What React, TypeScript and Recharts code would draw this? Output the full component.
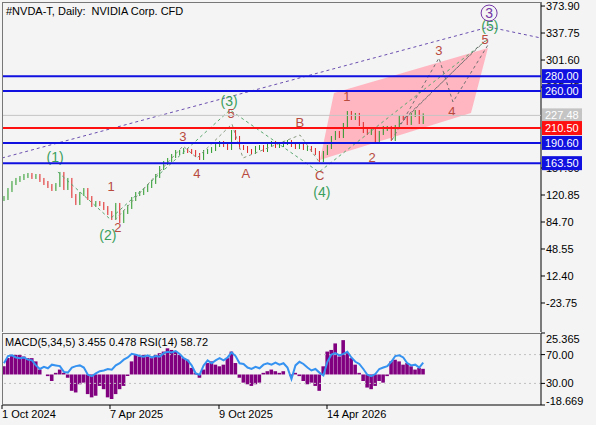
import React from "react";
import { ComposedChart, Bar, Line, Area, Scatter, XAxis, YAxis, ReferenceLine } from "recharts";

const FONT = "'Liberation Sans', Arial, sans-serif";
const UP = "#2a9a2a";
const DOWN = "#e02424";

// daily closes sampled along the chart (price)
const closes = [
  116.8, 127.5, 136.9, 141.0, 143.6, 146.3, 147.6, 145.0, 146.3, 141.0,
  136.9, 132.9, 128.9, 134.2, 149.0, 130.2, 141.0, 119.5, 110.1, 122.2,
  127.5, 116.8, 107.5, 110.1, 108.8, 103.4, 96.7, 90.1, 107.5, 86.0,
  98.1, 104.8, 115.5, 122.2, 123.5, 127.5, 132.9, 138.3, 146.3, 157.0,
  163.7, 167.7, 173.1, 178.4, 178.4, 181.1, 179.8, 178.4, 174.4, 170.4,
  178.4, 179.8, 182.4, 187.8, 190.5, 187.8, 183.8, 205.2, 197.2, 185.1,
  183.8, 179.8, 178.4, 183.8, 185.1, 181.1, 187.8, 190.5, 186.5, 187.8,
  190.5, 191.8, 187.8, 185.1, 189.1, 183.8, 183.8, 181.1, 177.1, 167.7,
  177.1, 185.1, 197.2, 203.9, 199.8, 214.6, 230.6, 224.0, 228.0, 215.9,
  206.5, 203.9, 206.5, 194.5, 203.9, 210.6, 210.6, 195.8, 211.9, 225.3,
  224.0, 217.3, 228.0, 232.0, 218.6, 227.48,
];

const macd = [
  5, 10, 12, 12, 12, 11, 10, 10, 8, 3,
  0, -1, -4, 1, 3, 1, -2, -10, -11, -6,
  -5, -12, -14, -13, -7, -9, -14, -15, -12, -9,
  -7, -1, 8, 12, 11, 12, 11, 10, 12, 13,
  14, 16, 15, 14, 12, 10, 9, 4, 1, -2,
  3, 7, 8, 6, 5, 6, 10, 14, 7, -2,
  -5, -6, -7, -6, -5, 1, 2, 3, 2, 1,
  2, 0, -1, 1, -1, -4, -6, -5, -7, -10,
  5, 14, 15, 19, 11, 21, 13, 10, 6, 1,
  -4, -8, -9, -7, -4, -5, -1, 8, 9, 8,
  6, 7, 5, 3, 4, 3.455,
];

const rsi = [
  58, 68, 69, 66, 65, 66, 63, 62, 55, 50,
  53, 51, 56, 55, 54, 46, 45, 52, 54, 55,
  52, 42, 40, 44, 47, 48, 50, 49, 55, 58,
  63, 66, 71, 70, 68, 67, 69, 66, 68, 67,
  72, 74, 73, 75, 71, 65, 62, 55, 44, 42,
  55, 62, 58, 62, 65, 62, 66, 73, 68, 58,
  57, 52, 50, 53, 51, 56, 58, 56, 59, 56,
  58, 52, 36, 55, 60, 57, 52, 48, 50, 45,
  41, 60, 70, 72, 69, 71, 74, 66, 60, 57,
  50, 42, 40, 43, 50, 52, 54, 60, 68, 69,
  66, 58, 55, 56, 52, 58.72,
];

// 229.30 and 193.15 sit fully under the 227.48 / 190.60 tags, so they are left out
const priceTicks = [373.9, 337.75, 301.6, 265.45, 157.0, 120.85, 84.7, 48.55, 12.4, -23.75];
const dateIdx = [-0.5, 26.55, 53.85, 80.9];
const dateLabels = ["1 Oct 2024", "7 Apr 2025", "9 Oct 2025", "14 Apr 2026"];
const panelTicks = [0, 30, 70, 100];
const panelLabels = ["-18.669", "30.00", "70.00", "25.365"];

const levels = [280, 260, 227.48, 210.5, 190.6, 163.5];
const levelColors = ["#1010e0", "#1010e0", "#c4c4c4", "#ff1010", "#1010e0", "#1010e0"];

// wave annotations (bar index, price)
const waveText = ["(1)", "1", "(2)", "2", "3", "4", "(3)", "5", "A", "B", "C", "(4)", "1", "2", "3", "4", "5", "(5)", "3"];
const waveIdx = [12.8, 26.8, 26.0, 28.5, 44.8, 48.3, 56.4, 56.9, 60.6, 74.1, 79.1, 79.6, 85.9, 92.2, 108.9, 112.2, 120.5, 121.7, 121.5];
const wavePrice = [171.7, 131.6, 67.0, 78.0, 199.8, 150.3, 246.7, 230.6, 150.3, 217.3, 146.3, 125.0, 252.1, 171.7, 314.9, 233.3, 329.0, 347.0, 364.5];
const waveDegree = ["g", "r", "g", "r", "r", "r", "g", "r", "r", "r", "r", "g", "r", "r", "r", "r", "r", "g", "p"];

const greenIdx = [13.5, 26.55, 56.6, 78.9, 120.96];
const greenPrice = [151.6, 88.7, 234.7, 151.6, 328.4];
const subIdx = [27.8, 44.83, 48.34, 57.1, 59.86, 74.13, 79.14];
const subPrice = [87.4, 186.5, 170.4, 215.9, 170.4, 201.2, 163.7];
const projIdx = [97.17, 108.94, 112.45, 121.21];
const projPrice = [194.5, 304.3, 245.4, 321.7];
const proj2Idx = [98.93, 118.71];
const proj2Price = [214.6, 319.0];
const proj3Idx = [100.43, 120.71];
const proj3Price = [223.9, 328.4];
const trendIdx = [-0.5, 121.46, 134.5];
const trendPrice = [170.4, 345.8, 331.1];
const channelIdx = [79.14, 82.65, 116.96, 121.21];
const channelLow = [167.7, 173.6, 230.6, 317.7];
const channelHigh = [167.7, 257.4, 311.0, 317.7];

const X_DOMAIN = [-0.5, 134.5];
const Y_DOMAIN = [-62.6, 379.3];

const candles = closes.map((c, i) => ({ i, open: i ? closes[i - 1] : c, close: c }));
const pts = (xs: number[], ys: number[]) => xs.map((x, k) => ({ i: x, p: ys[k] }));
const waves = waveText.map((t, k) => ({ i: waveIdx[k], p: wavePrice[k], t, d: waveDegree[k] }));
const channel = channelIdx.map((x, k) => ({ i: x, r: [channelLow[k], channelHigh[k]] }));
const panelData = macd.map((m, i) => ({ i, m, r: rsi[i] }));

const Candle = (props: any) => {
  const { x, y, width, height, payload } = props;
  if (x == null || y == null) return null;
  const col = payload.close >= payload.open ? UP : DOWN;
  const h = Math.max(1, height || 0);
  const cx = x + width / 2;
  return (
    <g>
      <line x1={cx} x2={cx} y1={y - 2} y2={y + h + 2} stroke={col} strokeWidth={1} />
      <rect x={x} y={y} width={width} height={h} fill={col} />
    </g>
  );
};

const waveColor: Record<string, string> = { g: "#3a9e5c", r: "#b84a3e", p: "#7436a6" };

const WaveLabel = (props: any) => {
  const { cx, cy, payload } = props;
  const col = waveColor[payload.d];
  return (
    <g>
      {payload.d === "p" && <circle cx={cx} cy={cy} r={8} fill="none" stroke={col} strokeWidth={1} />}
      <text x={cx} y={cy} textAnchor="middle" dominantBaseline="central" fill={col}
        fontSize={payload.d === "r" ? 13 : 14} fontFamily={FONT}>
        {payload.t}
      </text>
    </g>
  );
};

const LevelTag = (props: any) => {
  const { viewBox, text, bg } = props;
  if (!viewBox) return null;
  const x = viewBox.x + viewBox.width + 1;
  const y = viewBox.y;
  return (
    <g>
      <rect x={x} y={y - 7} width={40} height={14} fill={bg} />
      <text x={x + 3} y={y} dominantBaseline="central" fill="#fff" fontSize={11} fontFamily={FONT}>{text}</text>
    </g>
  );
};

const DateTick = (props: any) => {
  const { x, y, payload } = props;
  const k = dateIdx.indexOf(payload.value);
  return (
    <text x={x} y={y + 7} fill="#000" fontSize={11} fontFamily={FONT} textAnchor="start">{dateLabels[k]}</text>
  );
};

const PanelTick = (props: any) => {
  const { x, y, payload } = props;
  const k = panelTicks.indexOf(payload.value);
  const shift = payload.value === 100 ? 6 : payload.value === 0 ? -4 : 0;
  return (
    <text x={x} y={y + shift} dominantBaseline="central" fill="#000" fontSize={11} fontFamily={FONT} textAnchor="start">{panelLabels[k]}</text>
  );
};

const MAIN_MARGIN = { top: 2, right: 0, bottom: 1, left: 2 };

export default function App() {
  return (
    <div style={{ position: "absolute", left: 0, top: 0, width: 596, height: 425, background: "#f4f4f4", overflow: "hidden" }}>
      <div style={{ position: "absolute", left: 0, top: 0 }}>
        <ComposedChart width={596} height={333} data={candles} margin={MAIN_MARGIN}>
          <XAxis dataKey="i" type="number" domain={X_DOMAIN} hide allowDataOverflow />
          <YAxis orientation="right" type="number" domain={Y_DOMAIN} ticks={priceTicks} interval={0}
            width={55} tickSize={4} tickMargin={1} allowDataOverflow
            axisLine={{ stroke: "#000" }} tickLine={{ stroke: "#000" }}
            tick={{ fill: "#000", fontSize: 11, fontFamily: FONT }}
            tickFormatter={(v: number) => v.toFixed(2)} />
          <Area data={channel} dataKey="r" type="linear" stroke="none" fill="#ffb6c1" fillOpacity={1} isAnimationActive={false} />
          <Bar dataKey={(d: any) => [Math.min(d.open, d.close), Math.max(d.open, d.close)]} barSize={3}
            shape={<Candle />} isAnimationActive={false} />
          <Line data={pts(trendIdx, trendPrice)} dataKey="p" type="linear" stroke="#6a4fb0" strokeWidth={1} strokeDasharray="3 3" dot={false} isAnimationActive={false} />
          <Line data={pts(greenIdx, greenPrice)} dataKey="p" type="linear" stroke="#5aa870" strokeWidth={1} strokeDasharray="3 3" dot={false} isAnimationActive={false} />
          <Line data={pts(subIdx, subPrice)} dataKey="p" type="linear" stroke="#8a9a80" strokeWidth={1} strokeDasharray="3 3" dot={false} isAnimationActive={false} />
          <Line data={pts(projIdx, projPrice)} dataKey="p" type="linear" stroke="#707070" strokeWidth={1} strokeDasharray="3 3" dot={false} isAnimationActive={false} />
          <Line data={pts(proj2Idx, proj2Price)} dataKey="p" type="linear" stroke="#707070" strokeWidth={1} strokeDasharray="3 3" dot={false} isAnimationActive={false} />
          <Line data={pts(proj3Idx, proj3Price)} dataKey="p" type="linear" stroke="#707070" strokeWidth={1} strokeDasharray="3 3" dot={false} isAnimationActive={false} />
          <Scatter data={waves} dataKey="p" shape={<WaveLabel />} isAnimationActive={false} />
        </ComposedChart>
      </div>
      {/* level lines and their price tags drawn above the axis labels */}
      <div style={{ position: "absolute", left: 0, top: 0, pointerEvents: "none" }}>
        <ComposedChart width={596} height={333} data={candles} margin={MAIN_MARGIN}>
          <XAxis dataKey="i" type="number" domain={X_DOMAIN} hide allowDataOverflow />
          <YAxis orientation="right" type="number" domain={Y_DOMAIN} width={55} allowDataOverflow
            tick={false} axisLine={false} tickLine={false} />
          {levels.map((lv, k) => (
            <ReferenceLine key={lv} y={lv} stroke={levelColors[k]} strokeWidth={lv === 227.48 ? 1 : 2}
              label={<LevelTag text={lv.toFixed(2)} bg={levelColors[k]} />} />
          ))}
        </ComposedChart>
      </div>
      <div style={{ position: "absolute", left: 0, top: 332 }}>
        <ComposedChart width={596} height={93} data={panelData} margin={{ top: 1, right: 0, bottom: 0, left: 2 }}>
          <XAxis dataKey="i" type="number" domain={X_DOMAIN} ticks={dateIdx} interval={0} height={20}
            tickSize={4} allowDataOverflow axisLine={{ stroke: "#000" }} tickLine={{ stroke: "#000" }} tick={<DateTick />} />
          <YAxis yAxisId="r" orientation="right" type="number" domain={[0, 100]} ticks={panelTicks} interval={0}
            width={55} tickSize={4} tickMargin={1} axisLine={{ stroke: "#000" }} tickLine={{ stroke: "#000" }} tick={<PanelTick />} />
          <YAxis yAxisId="m" type="number" domain={[-18.669, 25.365]} hide allowDataOverflow />
          <ReferenceLine yAxisId="r" y={70} stroke="#c0c0c0" strokeDasharray="2 3" />
          <ReferenceLine yAxisId="r" y={30} stroke="#c0c0c0" strokeDasharray="2 3" />
          <Bar yAxisId="m" dataKey="m" fill="#800080" barSize={4} isAnimationActive={false} />
          <Line yAxisId="r" dataKey="r" type="linear" stroke="#3592f0" strokeWidth={2} dot={false} isAnimationActive={false} />
        </ComposedChart>
      </div>
      <div style={{ position: "absolute", left: 2, top: 2, width: 539, height: 330, borderTop: "1px solid #777", borderLeft: "1px solid #777", boxSizing: "border-box", pointerEvents: "none" }} />
      <div style={{ position: "absolute", left: 2, top: 333, width: 539, height: 72, borderTop: "1px solid #777", borderLeft: "1px solid #777", boxSizing: "border-box", pointerEvents: "none" }} />
      <div style={{ position: "absolute", left: 6, top: 5, fontSize: 11, fontFamily: FONT, color: "#000", whiteSpace: "pre" }}>
        {"#NVDA-T, Daily:  NVIDIA Corp. CFD"}
      </div>
      <div style={{ position: "absolute", left: 5, top: 336, fontSize: 11, fontFamily: FONT, color: "#000", whiteSpace: "pre" }}>
        {"MACD(5,34,5) 3.455 0.478 RSI(14) 58.72"}
      </div>
    </div>
  );
}
